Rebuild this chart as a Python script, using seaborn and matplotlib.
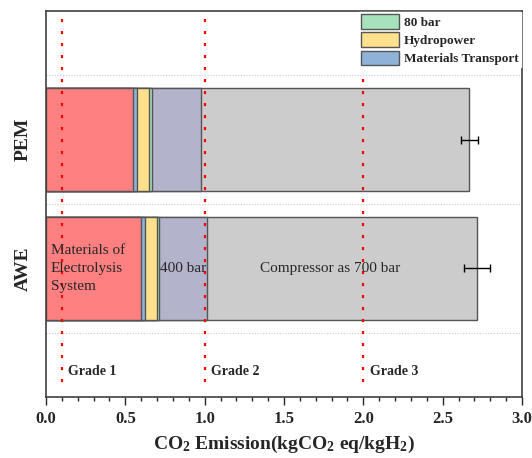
import numpy as np
import pandas as pd
import matplotlib
matplotlib.use("Agg")
import matplotlib.pyplot as plt
from matplotlib.ticker import MultipleLocator
from matplotlib.patches import Patch
import seaborn as sns

# ---- data ----
categories = ["PEM", "AWE"]
elec_materials = [0.546, 0.596]   # Materials of Electrolysis System
transport = [0.029, 0.029]        # Materials Transport
hydropower = [0.075, 0.072]       # Hydropower
bar80 = [0.019, 0.015]            # 80 bar
bar400 = [0.305, 0.300]           # 400 bar
bar700 = [1.694, 1.704]           # Compressor as 700 bar
total_err = [0.052, 0.084]
grades = [0.1, 1.0, 2.0]
grade_labels = ["Grade 1", "Grade 2", "Grade 3"]

sns.set_style("ticks")
plt.rcParams["font.family"] = ["Liberation Serif", "DejaVu Serif"]
plt.rcParams["mathtext.fontset"] = "custom"
plt.rcParams["mathtext.rm"] = "Liberation Serif:bold"
plt.rcParams["mathtext.default"] = "rm"

df = pd.DataFrame({
    "tech": categories,
    "elec": elec_materials,
    "transport": transport,
    "hydro": hydropower,
    "b80": bar80,
    "b400": bar400,
    "b700": bar700,
})
parts = ["elec", "transport", "hydro", "b80", "b400", "b700"]
colors = {
    "elec": "#ff8080",
    "transport": "#8fb2d9",
    "hydro": "#ffe08c",
    "b80": "#a6e3bd",
    "b400": "#b3b3cc",
    "b700": "#cccccc",
}
cum = df[parts].cumsum(axis=1)
for p in parts:
    df["cum_" + p] = cum[p]
df["err"] = total_err

fig = plt.figure(figsize=(5.32, 4.58), dpi=100)
ax = fig.add_axes([0.0865, 0.1332, 0.8947, 0.8428])

# stacked bars: draw cumulative sums, longest first
for p in reversed(parts):
    sns.barplot(data=df, x="cum_" + p, y="tech", order=categories, orient="h",
                color=colors[p], saturation=1, edgecolor="#555555", linewidth=1,
                errorbar=None, ax=ax, zorder=2)

pos = np.arange(len(categories))
ax.errorbar(df["cum_b700"], pos, xerr=df["err"], fmt="none", ecolor="black",
            elinewidth=1, capsize=3, capthick=1, zorder=5)

# grade threshold lines
tops = [-0.94, -0.94, -0.47]
for g, lab, t in zip(grades, grade_labels, tops):
    ax.plot([g, g], [t, 1.9], color="red", lw=1.6, linestyle=(0, (1.4, 4)), zorder=3)
    ax.text(g + 0.04, 1.8, lab, fontsize=10, fontweight="bold", va="center", ha="left")

# labels inside the AWE bar
ax.text(0.03, 1.0, "Materials of\nElectrolysis\nSystem", fontsize=11, va="center",
        ha="left", linespacing=1.5, zorder=6)
ax.text(df["cum_b80"][1] + df["b400"][1] / 2, 1.0, "400 bar", fontsize=11,
        va="center", ha="center", zorder=6)
ax.text(1.79, 1.0, "Compressor as 700 bar", fontsize=11, va="center", ha="center", zorder=6)

ax.set_xlim(0, 3.0)
ax.set_ylim(2.0, -1.0)
ax.xaxis.set_major_locator(MultipleLocator(0.5))
ax.xaxis.set_minor_locator(MultipleLocator(0.1))
ax.xaxis.set_major_formatter(matplotlib.ticker.FormatStrFormatter("%.1f"))
ax.tick_params(axis="x", which="major", length=6, width=1, pad=4, labelsize=12)
ax.tick_params(axis="x", which="minor", length=3, width=1)
ax.set_yticks(pos)
ax.set_yticklabels(categories, rotation=90, va="center", fontsize=14, fontweight="bold")
ax.tick_params(axis="y", which="both", length=0, pad=10)
for lab in ax.get_xticklabels():
    lab.set_fontweight("bold")

ax.set_yticks([-0.5, 0.5, 1.5], minor=True)
ax.grid(axis="y", which="minor", color="#cccccc", linestyle=(0, (1, 1.5)), lw=0.8, zorder=0)
ax.set_axisbelow(True)

for s in ax.spines.values():
    s.set_visible(True)
    s.set_color("#404040")
    s.set_linewidth(1.2)

ax.set_ylabel("")
ax.set_xlabel("CO$_2$ Emission(kgCO$_2$ eq/kgH$_2$)", fontsize=14, fontweight="bold", labelpad=5)

handles = [Patch(facecolor=colors["b80"], edgecolor="#555555", label="80 bar"),
           Patch(facecolor=colors["hydro"], edgecolor="#555555", label="Hydropower"),
           Patch(facecolor=colors["transport"], edgecolor="#555555", label="Materials Transport")]
leg = ax.legend(handles=handles, loc="upper right", bbox_to_anchor=(1.0, 1.0),
                prop={"weight": "bold", "size": 9.5}, handlelength=2.9, handleheight=1.35,
                labelspacing=0.25, handletextpad=0.4, borderpad=0.15, borderaxespad=0.1,
                frameon=True, fancybox=False)
leg.get_frame().set_facecolor("white")
leg.get_frame().set_edgecolor("white")
leg.get_frame().set_alpha(1)
leg.set_zorder(10)

fig.savefig("out.png", dpi=100)
